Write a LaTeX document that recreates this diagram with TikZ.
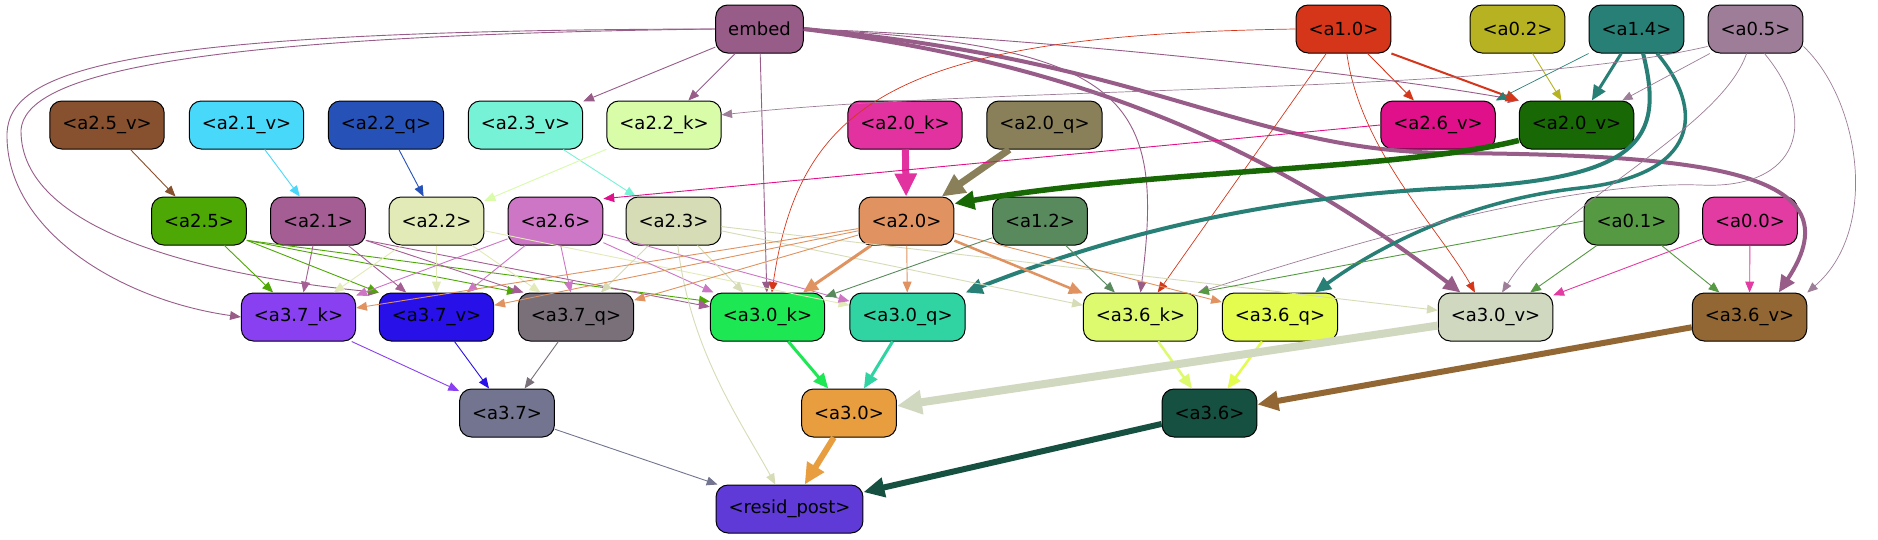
\documentclass[tikz,border=0pt]{standalone}
\usepackage{fontspec}
\setmainfont{DejaVu Sans}
\definecolor{cembed}{RGB}{152,92,137}
\definecolor{ca10}{RGB}{213,54,26}
\definecolor{ca02}{RGB}{183,178,34}
\definecolor{ca14}{RGB}{39,127,118}
\definecolor{ca05}{RGB}{157,125,152}
\definecolor{ca25v}{RGB}{135,80,46}
\definecolor{ca21v}{RGB}{72,217,250}
\definecolor{ca22q}{RGB}{38,82,184}
\definecolor{ca23v}{RGB}{118,243,214}
\definecolor{ca22k}{RGB}{216,252,168}
\definecolor{ca20k}{RGB}{225,50,160}
\definecolor{ca20q}{RGB}{137,127,88}
\definecolor{ca26v}{RGB}{223,16,137}
\definecolor{ca20v}{RGB}{24,104,6}
\definecolor{ca25}{RGB}{77,168,5}
\definecolor{ca21}{RGB}{164,94,148}
\definecolor{ca22}{RGB}{226,235,184}
\definecolor{ca26}{RGB}{206,118,198}
\definecolor{ca23}{RGB}{214,220,182}
\definecolor{ca20}{RGB}{224,147,96}
\definecolor{ca12}{RGB}{89,138,93}
\definecolor{ca01}{RGB}{86,153,67}
\definecolor{ca00}{RGB}{226,60,162}
\definecolor{ca37k}{RGB}{136,64,240}
\definecolor{ca37v}{RGB}{39,16,232}
\definecolor{ca37q}{RGB}{121,112,122}
\definecolor{ca30k}{RGB}{29,232,83}
\definecolor{ca30q}{RGB}{47,212,162}
\definecolor{ca36k}{RGB}{221,250,110}
\definecolor{ca36q}{RGB}{228,252,78}
\definecolor{ca30v}{RGB}{208,216,192}
\definecolor{ca36v}{RGB}{147,103,51}
\definecolor{ca37}{RGB}{114,116,144}
\definecolor{ca30}{RGB}{232,157,63}
\definecolor{ca36}{RGB}{21,80,64}
\definecolor{cresid}{RGB}{95,58,214}
\usetikzlibrary{arrows.meta}

\begin{document}
\begin{tikzpicture}[x=1pt,y=-1pt,
    blk/.style={draw,rounded corners=12pt,minimum height=48pt,inner xsep=12.5pt,line width=1pt,font=\fontsize{18}{21}\selectfont},
    lnk/.style={-{Triangle[length=9pt 2,width=7pt 2]},line width=0.9pt}]
    \useasboundingbox[fill=white] (0,0) rectangle (1878,539);
    \node[blk,fill=cembed] (embed) at (759.5,29) {embed};
    \node[blk,fill=ca10] (a10) at (1343.5,29) {<a1.0>};
    \node[blk,fill=ca02] (a02) at (1517.5,29) {<a0.2>};
    \node[blk,fill=ca14] (a14) at (1636.5,29) {<a1.4>};
    \node[blk,fill=ca05] (a05) at (1755.5,29) {<a0.5>};
    \node[blk,fill=ca25v] (a25v) at (107,125) {<a2.5\_v>};
    \node[blk,fill=ca21v] (a21v) at (246.5,125) {<a2.1\_v>};
    \node[blk,fill=ca22q] (a22q) at (386,125) {<a2.2\_q>};
    \node[blk,fill=ca23v] (a23v) at (525.5,125) {<a2.3\_v>};
    \node[blk,fill=ca22k] (a22k) at (664,125) {<a2.2\_k>};
    \node[blk,fill=ca20k] (a20k) at (905,125) {<a2.0\_k>};
    \node[blk,fill=ca20q] (a20q) at (1044.5,125) {<a2.0\_q>};
    \node[blk,fill=ca26v] (a26v) at (1438,125) {<a2.6\_v>};
    \node[blk,fill=ca20v] (a20v) at (1576.5,125) {<a2.0\_v>};
    \node[blk,fill=ca25] (a25) at (199,221) {<a2.5>};
    \node[blk,fill=ca21] (a21) at (318,221) {<a2.1>};
    \node[blk,fill=ca22] (a22) at (436.5,221) {<a2.2>};
    \node[blk,fill=ca26] (a26) at (555.5,221) {<a2.6>};
    \node[blk,fill=ca23] (a23) at (673.5,221) {<a2.3>};
    \node[blk,fill=ca20] (a20) at (906.5,221) {<a2.0>};
    \node[blk,fill=ca12] (a12) at (1040,221) {<a1.2>};
    \node[blk,fill=ca01] (a01) at (1631.5,221) {<a0.1>};
    \node[blk,fill=ca00] (a00) at (1750,221) {<a0.0>};
    \node[blk,fill=ca37k] (a37k) at (298.5,317) {<a3.7\_k>};
    \node[blk,fill=ca37v] (a37v) at (436.5,317) {<a3.7\_v>};
    \node[blk,fill=ca37q] (a37q) at (576,317) {<a3.7\_q>};
    \node[blk,fill=ca30k] (a30k) at (767.5,317) {<a3.0\_k>};
    \node[blk,fill=ca30q] (a30q) at (907.5,317) {<a3.0\_q>};
    \node[blk,fill=ca36k] (a36k) at (1140.5,317) {<a3.6\_k>};
    \node[blk,fill=ca36q] (a36q) at (1280,317) {<a3.6\_q>};
    \node[blk,fill=ca30v] (a30v) at (1495.5,317) {<a3.0\_v>};
    \node[blk,fill=ca36v] (a36v) at (1749.5,317) {<a3.6\_v>};
    \node[blk,fill=ca37] (a37) at (507,413) {<a3.7>};
    \node[blk,fill=ca30] (a30) at (849,413) {<a3.0>};
    \node[blk,fill=ca36] (a36) at (1209.5,413) {<a3.6>};
    \node[blk,fill=cresid] (resid) at (789.5,509) {<resid\_post>};

    \draw[lnk,cembed] (embed) -- (a23v);
    \draw[lnk,cembed] (embed) -- (a22k);
    \draw[lnk,cembed] (embed) -- (a30k);
    \draw[lnk,cembed] (embed.west) .. controls (120,30) and (10,70) .. (7,133) .. controls (5,230) and (120,300) .. (a37k.west);
    \draw[lnk,cembed] (embed.west) .. controls (150,36) and (25,80) .. (21,130) .. controls (20,230) and (200,275) .. (a37v.north west);
    \draw[lnk,cembed] (embed.east) .. controls (1000,35) and (1350,70) .. (a20v.north west);
    \draw[lnk,cembed] (embed.east) .. controls (1130,45) and (1165,100) .. (a36k.north);
    \draw[lnk,cembed,line width=4pt] (embed.east) .. controls (1050,60) and (1250,130) .. (a30v.145);
    \draw[lnk,cembed,line width=4pt] (embed.east) .. controls (1150,60) and (1250,152) .. (1450,153) .. controls (1700,155) and (1860,170) .. (a36v.40);
    \draw[lnk,ca10] (a10) -- (a26v);
    \draw[lnk,ca10,line width=2pt] (a10.south east) -- (a20v.north west);
    \draw[lnk,ca10,line width=0.7pt] (a10.west) .. controls (900,35) and (800,100) .. (a30k.80);
    \draw[lnk,ca10,line width=0.7pt] (a10) -- (a36k);
    \draw[lnk,ca10,line width=0.7pt] (a10) .. controls (1360,150) and (1440,230) .. (a30v.130);
    \draw[lnk,ca02] (a02) -- (a20v);
    \draw[lnk,ca14,line width=0.7pt] (a14.south west) -- (a26v.north east);
    \draw[lnk,ca14,line width=3pt] (a14) -- (a20v);
    \draw[lnk,ca14,line width=4pt] (a14.-75) .. controls (1665,140) and (1640,180) .. (1450,188) .. controls (1250,198) and (1100,240) .. (a30q.north east);
    \draw[lnk,ca14,line width=3.5pt] (a14.-50) .. controls (1705,110) and (1700,175) .. (1580,188) .. controls (1470,200) and (1380,245) .. (a36q.35);
    \draw[lnk,ca05,line width=0.7pt] (a05.200) .. controls (1500,95) and (1000,85) .. (a22k.10);
    \draw[lnk,ca05,line width=0.7pt] (a05) -- (a20v);
    \draw[lnk,ca05,line width=0.7pt] (a05.-110) .. controls (1720,130) and (1560,200) .. (a30v.75);
    \draw[lnk,ca05,line width=0.7pt] (a05.-70) .. controls (1820,120) and (1800,190) .. (1700,185) .. controls (1550,180) and (1300,260) .. (a36k.north east);
    \draw[lnk,ca05,line width=0.7pt] (a05.-20) .. controls (1860,100) and (1880,230) .. (a36v.north east);

    \draw[lnk,ca25v] (a25v) -- (a25);
    \draw[lnk,ca21v] (a21v) -- (a21);
    \draw[lnk,ca22q] (a22q) -- (a22);
    \draw[lnk,ca23v] (a23v) -- (a23);
    \draw[lnk,ca22k] (a22k) -- (a22);
    \draw[lnk,ca20k,line width=7pt] (a20k) -- (a20);
    \draw[lnk,ca20q,line width=7pt] (a20q) -- (a20);
    \draw[lnk,ca20v,line width=5.5pt] (a20v.195) .. controls (1400,170) and (1150,170) .. (a20.20);
    \draw[lnk,ca26v] (a26v.west) -- (a26.25);

    \draw[lnk,ca25] (a25) -- (a37k);
    \draw[lnk,ca25] (a25.-22) -- (a37v.north west);
    \draw[lnk,ca25] (a25.-22) -- (a37q.north west);
    \draw[lnk,ca25] (a25.-22) -- (a30k.165);
    \draw[lnk,ca21] (a21) -- (a37k);
    \draw[lnk,ca21] (a21) -- (a37v);
    \draw[lnk,ca21] (a21.-22) -- (a37q.155);
    \draw[lnk,ca21] (a21.-22) -- (a30k.170);
    \draw[lnk,ca22] (a22) -- (a37k);
    \draw[lnk,ca22] (a22) -- (a37v);
    \draw[lnk,ca22] (a22) -- (a37q);
    \draw[lnk,ca22] (a22) -- (a30q);
    \draw[lnk,ca26] (a26) -- (a37k);
    \draw[lnk,ca26] (a26) -- (a37v);
    \draw[lnk,ca26] (a26) -- (a37q);
    \draw[lnk,ca26] (a26) -- (a30k);
    \draw[lnk,ca26] (a26) -- (a30q);
    \draw[lnk,ca23] (a23) -- (a37q);
    \draw[lnk,ca23] (a23) -- (a30k);
    \draw[lnk,ca23] (a23.-80) .. controls (690,350) and (740,420) .. (resid.120);
    \draw[lnk,ca23] (a23) -- (a36k);
    \draw[lnk,ca23] (a23) -- (a30v);
    \draw[lnk,ca20] (a20) -- (a37k);
    \draw[lnk,ca20] (a20) -- (a37v);
    \draw[lnk,ca20] (a20) -- (a37q);
    \draw[lnk,ca20,line width=3pt] (a20) -- (a30k);
    \draw[lnk,ca20] (a20) -- (a30q);
    \draw[lnk,ca20,line width=2.5pt] (a20) -- (a36k);
    \draw[lnk,ca20] (a20) -- (a36q);
    \draw[lnk,ca12] (a12) -- (a30k);
    \draw[lnk,ca12] (a12) -- (a36k);
    \draw[lnk,ca01] (a01.west) -- (a36k.north east);
    \draw[lnk,ca01] (a01) -- (a30v);
    \draw[lnk,ca01] (a01) -- (a36v);
    \draw[lnk,ca00] (a00) -- (a30v);
    \draw[lnk,ca00] (a00) -- (a36v);

    \draw[lnk,ca37k] (a37k) -- (a37);
    \draw[lnk,ca37v] (a37v) -- (a37);
    \draw[lnk,ca37q] (a37q) -- (a37);
    \draw[lnk,ca30k,line width=3pt] (a30k) -- (a30);
    \draw[lnk,ca30q,line width=3pt] (a30q) -- (a30);
    \draw[lnk,ca36k,line width=2.5pt] (a36k) -- (a36);
    \draw[lnk,ca36q,line width=2.5pt] (a36q) -- (a36);
    \draw[lnk,ca30v,line width=8pt] (a30v) -- (a30);
    \draw[lnk,ca36v,line width=6pt] (a36v) -- (a36);
    \draw[lnk,ca37] (a37) -- (resid);
    \draw[lnk,ca30,line width=6pt] (a30) -- (resid);
    \draw[lnk,ca36,line width=6pt] (a36) -- (resid);
\end{tikzpicture}
\end{document}
